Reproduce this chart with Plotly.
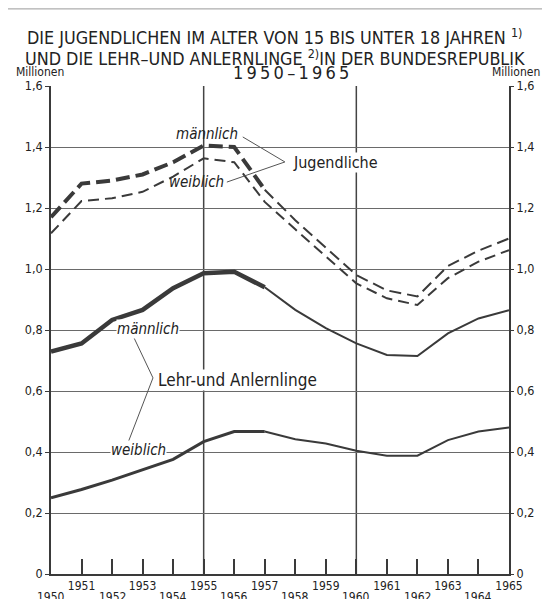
import plotly.graph_objects as go

years = list(range(1950, 1966))
jug_m = [1.17, 1.28, 1.29, 1.31, 1.35, 1.405, 1.40, 1.26, 1.16, 1.07, 0.98, 0.93, 0.91, 1.01, 1.06, 1.10]
jug_w = [1.117, 1.223, 1.232, 1.253, 1.303, 1.363, 1.35, 1.22, 1.13, 1.04, 0.953, 0.904, 0.882, 0.97, 1.024, 1.062]
lehr_m = [0.729, 0.756, 0.833, 0.866, 0.937, 0.986, 0.991, 0.94, 0.866, 0.806, 0.756, 0.718, 0.715, 0.789, 0.838, 0.865]
lehr_w = [0.25, 0.277, 0.308, 0.341, 0.376, 0.434, 0.467, 0.467, 0.442, 0.428, 0.404, 0.388, 0.388, 0.439, 0.467, 0.48]

y_ticks = [0, 0.2, 0.4, 0.6, 0.8, 1.0, 1.2, 1.4, 1.6]
y_labels = ["0", "0,2", "0,4", "0,6", "0,8", "1,0", "1,2", "1,4", "1,6"]
upper_years = [y for y in years if y % 2 == 1 or y == 1965]
lower_years = [y for y in years if y % 2 == 0 and y != 1965]
x_labels = [str(y) if y in upper_years else "" for y in years]
divider_years = [1955, 1960]
split = 8  # thick drawing up to 1957

FONT = "DejaVu Sans Condensed, DejaVu Sans, sans-serif"
INK = "#3a3a3a"

fig = go.Figure()

def add(xs, ys, width, dash):
    fig.add_trace(go.Scatter(x=xs, y=ys, mode="lines",
                             line=dict(color=INK, width=width, dash=dash),
                             showlegend=False, hoverinfo="skip"))

add(years[:split], jug_m[:split], 4, "14px,6px")
add(years[split - 1:], jug_m[split - 1:], 2, "12px,6px")
add(years, jug_w, 2, "11px,6px")
add(years[:split], lehr_m[:split], 4.5, "solid")
add(years[split - 1:], lehr_m[split - 1:], 2, "solid")
add(years[:split], lehr_w[:split], 3, "solid")
add(years[split - 1:], lehr_w[split - 1:], 2, "solid")

# vertical dividers
for yr in divider_years:
    fig.add_shape(type="line", xref="x", yref="y", x0=yr, x1=yr, y0=0, y1=1.6,
                  line=dict(color="#444", width=1.5), layer="below")

# outer frame
fig.add_shape(type="rect", xref="paper", yref="paper", x0=-0.103, x1=1.081, y0=-0.2, y1=1.158,
              line=dict(color="#999", width=1))

# leader lines
leaders = [
    [(1956.28, 1.433), (1957.66, 1.351)],
    [(1955.76, 1.285), (1957.66, 1.351)],
    [(1952.72, 0.774), (1953.34, 0.643)],
    [(1953.34, 0.643), (1952.52, 0.430)],
]
for (a, b) in leaders:
    fig.add_shape(type="line", xref="x", yref="y", x0=a[0], y0=a[1], x1=b[0], y1=b[1],
                  line=dict(color="#555", width=1))

def note(x, y, text, size=13, xanchor="center", bg="rgba(0,0,0,0)", xref="x", yref="y"):
    fig.add_annotation(x=x, y=y, xref=xref, yref=yref, text=text, showarrow=False,
                       xanchor=xanchor, yanchor="middle", bgcolor=bg, borderpad=0,
                       font=dict(family=FONT, size=size, color="#222"))

note(1955.1, 1.443, "<i>männlich</i>", 15)
note(1954.78, 1.285, "<i>weiblich</i>", 15)
note(1957.89, 1.348, "Jugendliche", 16, xanchor="left", bg="white")
note(1953.18, 0.803, "<i>männlich</i>", 15, bg="white")
note(1953.47, 0.636, "Lehr-und Anlernlinge", 17, xanchor="left", bg="white")
note(1952.85, 0.407, "<i>weiblich</i>", 15, bg="white")

# lower row of year labels
for y in lower_years:
    fig.add_annotation(x=y, y=-0.047, xref="x", yref="paper", text=str(y), showarrow=False,
                       yanchor="middle", font=dict(family=FONT, size=12, color="#222"))

# titles
TS = "\u2009"
note(0.489, 1.1015, "DIE JUGENDLICHEN IM ALTER VON 15 BIS UNTER 18 JAHREN <sup>1)</sup>", 17.8, xref="paper", yref="paper")
note(0.489, 1.0594, "UND DIE LEHR–UND ANLERNLINGE <sup>2)</sup>IN DER BUNDESREPUBLIK", 17.8, xref="paper", yref="paper")
note(0.524, 1.027, TS.join("1950–1965"), 18, xref="paper", yref="paper")
note(-0.024, 1.029, "Millionen", 12, xref="paper", yref="paper")
note(1.015, 1.029, "Millionen", 12, xref="paper", yref="paper")

axis_font = dict(family=FONT, size=12.5, color="#222")
fig.update_layout(
    width=542, height=591,
    margin=dict(l=43, r=41, t=78, b=25),
    paper_bgcolor="white", plot_bgcolor="white",
    xaxis=dict(range=[1950, 1965], tickvals=years, ticktext=x_labels, ticks="inside",
               ticklen=15, tickwidth=1.5, tickcolor=INK, showgrid=False, zeroline=False,
               showline=True, linecolor=INK, linewidth=2, mirror=False,
               tickfont=dict(family=FONT, size=12, color="#222"), tickangle=0, automargin=False),
    yaxis=dict(range=[0, 1.6], tickvals=y_ticks, ticktext=y_labels, ticks="outside",
               ticklen=4, tickcolor=INK, showgrid=True, gridcolor="#6a6a6a", gridwidth=1,
               zeroline=False, showline=True, linecolor=INK, linewidth=1.5, mirror=True,
               tickfont=axis_font, automargin=False),
    yaxis2=dict(range=[0, 1.6], tickvals=y_ticks, ticktext=y_labels, ticks="outside",
                ticklen=4, tickcolor=INK, overlaying="y", side="right", showgrid=False,
                zeroline=False, showline=False, tickfont=axis_font, automargin=False),
)
fig.add_trace(go.Scatter(x=[1950], y=[0], yaxis="y2", mode="markers", marker=dict(opacity=0),
                         showlegend=False, hoverinfo="skip"))
fig.update_xaxes(layer="above traces")

fig.write_html("out.html")
